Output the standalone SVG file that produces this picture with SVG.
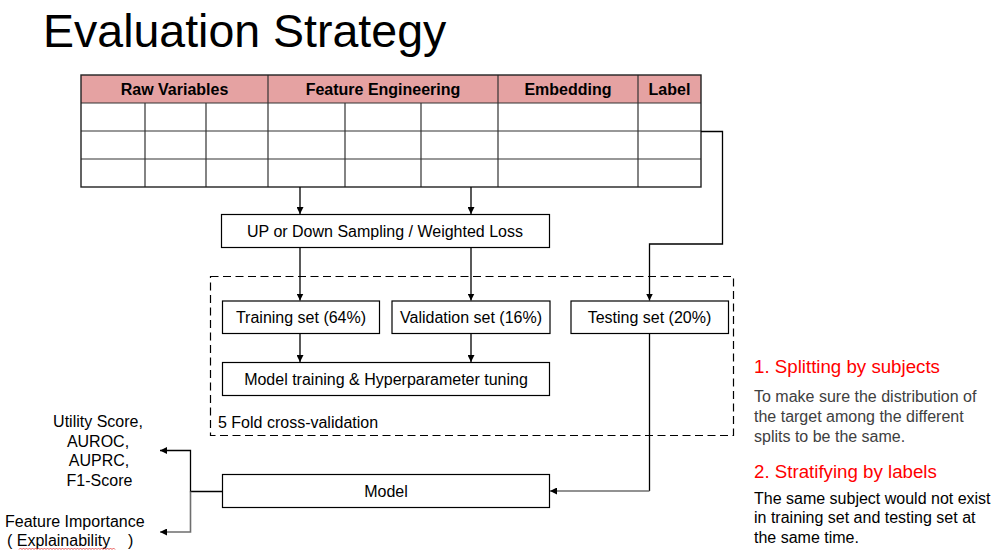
<svg xmlns="http://www.w3.org/2000/svg" width="1002" height="553" viewBox="0 0 1002 553">
<defs>
<marker id="ah" viewBox="0 0 10 10" refX="10" refY="5" markerWidth="7" markerHeight="7" markerUnits="userSpaceOnUse" orient="auto">
<path d="M0,0 L10,5 L0,10 z" fill="#000"/>
</marker>
<style>
text{font-family:"Liberation Sans",Arial,sans-serif;}
.t{font-size:16px;fill:#000;text-anchor:middle;}
.h{font-size:16px;font-weight:bold;fill:#000;text-anchor:middle;}
.box{fill:#fff;stroke:#000;stroke-width:1.2;}
.grid{stroke:#333;stroke-width:1.2;fill:none;}
.c{stroke:#000;stroke-width:1.3;fill:none;}
.cg{stroke:#6e6e6e;stroke-width:1.6;fill:none;}
.red{font-size:18.7px;fill:#ff0000;}
.gray{font-size:16px;fill:#404040;}
.blk{font-size:16px;fill:#000;}
</style>
</defs>
<rect width="1002" height="553" fill="#fff"/>
<text x="43" y="47" font-size="46.5" fill="#000">Evaluation Strategy</text>

<g id="table">
<rect x="81" y="75" width="620" height="28" fill="#e5a2a2"/>
<rect x="81" y="103" width="620" height="84" fill="#fff"/>
<path class="grid" d="M81,103H701M81,131H701M81,159H701M268,75V187M498,75V187M638,75V187M145,103V187M206,103V187M345,103V187M421,103V187"/>
<rect x="81" y="75" width="620" height="112" fill="none" stroke="#222" stroke-width="1.4"/>
<text class="h" x="174.5" y="94.5">Raw Variables</text>
<text class="h" x="383" y="94.5">Feature Engineering</text>
<text class="h" x="568" y="94.5">Embedding</text>
<text class="h" x="669.5" y="94.5">Label</text>
</g>

<g id="cv-frame">
<rect x="210.5" y="276.5" width="523" height="159" fill="none" stroke="#000" stroke-width="1.2" stroke-dasharray="8,4.5"/>
<text x="218" y="428" font-size="16" fill="#000">5 Fold cross-validation</text>
</g>

<g id="sampling">
<rect class="box" x="221.5" y="214.5" width="328" height="33"/>
<text class="t" x="385" y="236.5">UP or Down Sampling / Weighted Loss</text>
</g>
<g id="training">
<rect class="box" x="222.5" y="301" width="157" height="32.5"/>
<text class="t" x="301" y="322.5">Training set (64%)</text>
</g>
<g id="validation">
<rect class="box" x="392" y="301" width="158" height="32.5"/>
<text class="t" x="471" y="322.5">Validation set (16%)</text>
</g>
<g id="testing">
<rect class="box" x="571" y="301" width="157.5" height="32.5"/>
<text class="t" x="649.5" y="322.5">Testing set (20%)</text>
</g>
<g id="tuning">
<rect class="box" x="222.5" y="362.5" width="327" height="33"/>
<text class="t" x="386" y="384.5">Model training &amp; Hyperparameter tuning</text>
</g>
<g id="model">
<rect class="box" x="222.5" y="474.5" width="327" height="33"/>
<text class="t" x="386" y="496.5">Model</text>
</g>

<g id="metrics">
<text class="t" x="98" y="427">Utility Score,</text>
<text class="t" x="98" y="446.5">AUROC,</text>
<text class="t" x="99" y="466">AUPRC,</text>
<text class="t" x="99.5" y="485.5">F1-Score</text>
</g>
<g id="importance">
<text x="5" y="527" font-size="16" fill="#000">Feature Importance</text>
<text x="7" y="546" font-size="16" fill="#000" style="white-space:pre">( Explainability    )</text>
<path d="M19,549.5 l1.5,-1.5 l1.5,1.5 l1.5,-1.5 l1.5,1.5 l1.5,-1.5 l1.5,1.5 l1.5,-1.5 l1.5,1.5 l1.5,-1.5 l1.5,1.5 l1.5,-1.5 l1.5,1.5 l1.5,-1.5 l1.5,1.5 l1.5,-1.5 l1.5,1.5 l1.5,-1.5 l1.5,1.5 l1.5,-1.5 l1.5,1.5 l1.5,-1.5 l1.5,1.5 l1.5,-1.5 l1.5,1.5 l1.5,-1.5 l1.5,1.5 l1.5,-1.5 l1.5,1.5 l1.5,-1.5 l1.5,1.5 l1.5,-1.5 l1.5,1.5 l1.5,-1.5 l1.5,1.5 l1.5,-1.5 l1.5,1.5 l1.5,-1.5 l1.5,1.5 l1.5,-1.5 l1.5,1.5 l1.5,-1.5 l1.5,1.5 l1.5,-1.5 l1.5,1.5 l1.5,-1.5 l1.5,1.5 l1.5,-1.5 l1.5,1.5 l1.5,-1.5 l1.5,1.5 l1.5,-1.5 l1.5,1.5 l1.5,-1.5 l1.5,1.5 l1.5,-1.5 l1.5,1.5 l1.5,-1.5 l1.5,1.5 l1.5,-1.5 l1.5,1.5 l1.5,-1.5 l1.5,1.5 l1.5,-1.5 l1.5,1.5" fill="none" stroke="#e03030" stroke-width="0.8"/>
</g>

<g id="notes">
<text class="red" x="754" y="372.5">1. Splitting by subjects</text>
<text class="gray" x="754" y="402">To make sure the distribution of</text>
<text class="gray" x="754" y="421.5">the target among the different</text>
<text class="gray" x="754" y="441.5">splits to be the same.</text>
<text class="red" x="754" y="478">2. Stratifying by labels</text>
<text class="blk" x="754" y="503.5">The same subject would not exist</text>
<text class="blk" x="754" y="523">in training set and testing set at</text>
<text class="blk" x="754" y="543">the same time.</text>
</g>

<g id="connectors">
<path class="c" d="M300,187V214" marker-end="url(#ah)"/>
<path class="c" d="M471,187V214" marker-end="url(#ah)"/>
<path class="c" d="M300,247.5V300.5" marker-end="url(#ah)"/>
<path class="c" d="M471,247.5V300.5" marker-end="url(#ah)"/>
<path class="c" d="M701,131.5H722.5V244H649.5V300.5" marker-end="url(#ah)"/>
<path class="c" d="M300,333.5V362" marker-end="url(#ah)"/>
<path class="c" d="M471,333.5V362" marker-end="url(#ah)"/>
<path class="c" d="M649.5,333.5V491"/>
<path class="cg" d="M649.5,491H550" marker-end="url(#ah)"/>
<path class="c" d="M222.5,491.5H190.5V450.5H160" marker-end="url(#ah)"/>
<path class="cg" d="M190.5,491.5V532H160" marker-end="url(#ah)"/>
</g>
</svg>
